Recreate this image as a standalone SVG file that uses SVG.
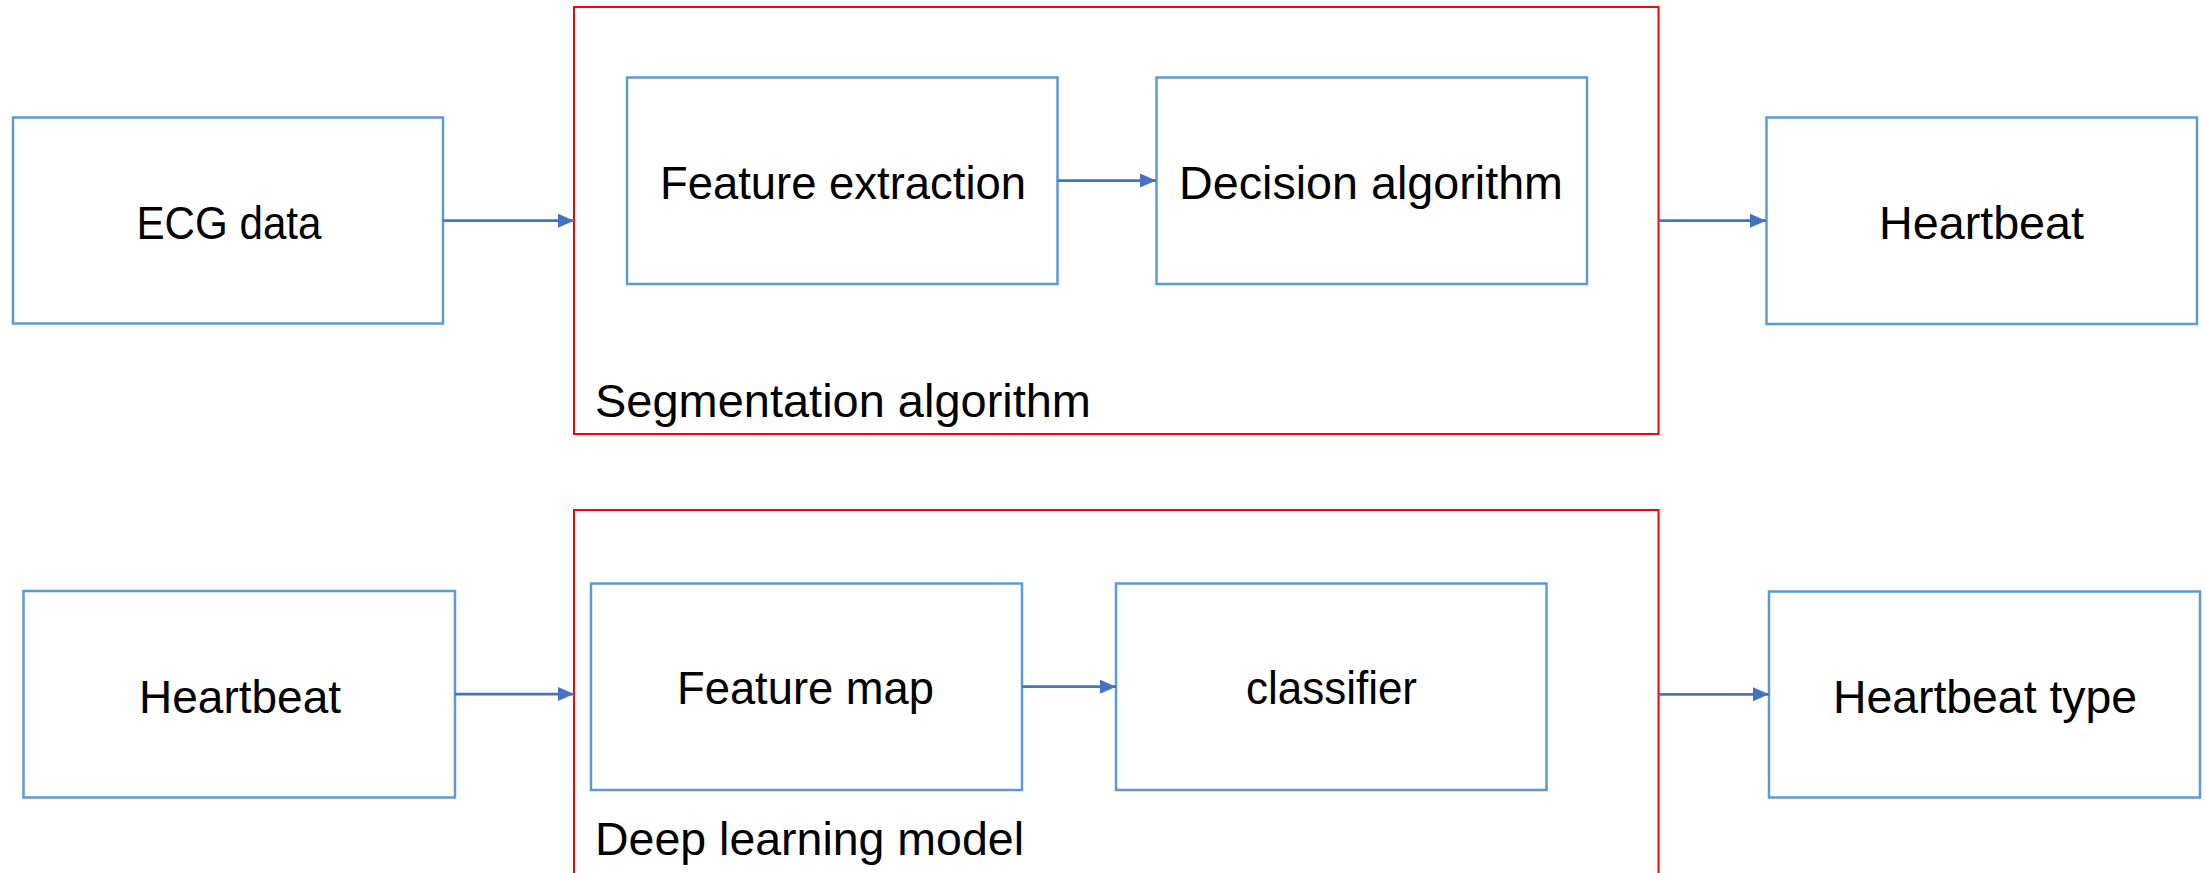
<svg xmlns="http://www.w3.org/2000/svg" width="2206" height="873" viewBox="0 0 2206 873">
<style>
.node{fill:#ffffff;stroke:#5B9BD5;stroke-width:2.5}
.group{fill:none;stroke:#FF0000;stroke-width:2}
.lbl{font-family:"Liberation Sans",Arial,sans-serif;font-size:46px;fill:#000000}
.mid{text-anchor:middle}
.conn{stroke:#4472C4;stroke-width:2.75;fill:none}
</style>
<defs>
<marker id="ah" markerUnits="userSpaceOnUse" markerWidth="16" markerHeight="14" refX="16" refY="7" orient="auto">
<path d="M0,0 L16,7 L0,14 Z" fill="#4472C4"/>
</marker>
</defs>
<rect width="2206" height="873" fill="#ffffff"/>
<g id="group-segmentation">
<rect class="group" x="574" y="7" width="1084.5" height="427"/>
<text class="lbl" x="595" y="417" textLength="496" lengthAdjust="spacingAndGlyphs">Segmentation algorithm</text>
</g>
<g id="group-deep-learning">
<rect class="group" x="574" y="510" width="1084.5" height="400"/>
<text class="lbl" x="595" y="855" textLength="429" lengthAdjust="spacingAndGlyphs">Deep learning model</text>
</g>
<g id="node-ecg">
<rect class="node" x="13" y="117.5" width="430" height="206"/>
<text class="lbl mid" x="229" y="239" textLength="185" lengthAdjust="spacingAndGlyphs">ECG data</text>
</g>
<g id="node-feature-extraction">
<rect class="node" x="627" y="77.5" width="430.5" height="206.5"/>
<text class="lbl mid" x="843" y="199" textLength="366" lengthAdjust="spacingAndGlyphs">Feature extraction</text>
</g>
<g id="node-decision">
<rect class="node" x="1156.5" y="77.5" width="430.5" height="206.5"/>
<text class="lbl mid" x="1371" y="199" textLength="384" lengthAdjust="spacingAndGlyphs">Decision algorithm</text>
</g>
<g id="node-heartbeat-top">
<rect class="node" x="1766.5" y="117.5" width="430.5" height="206.5"/>
<text class="lbl mid" x="1981.5" y="239" textLength="205" lengthAdjust="spacingAndGlyphs">Heartbeat</text>
</g>
<g id="node-heartbeat-bottom">
<rect class="node" x="23.5" y="591" width="431.5" height="206.5"/>
<text class="lbl mid" x="240" y="713" textLength="202" lengthAdjust="spacingAndGlyphs">Heartbeat</text>
</g>
<g id="node-feature-map">
<rect class="node" x="591" y="583.5" width="431" height="206.5"/>
<text class="lbl mid" x="805.5" y="704" textLength="257" lengthAdjust="spacingAndGlyphs">Feature map</text>
</g>
<g id="node-classifier">
<rect class="node" x="1116" y="583.5" width="430.5" height="206.5"/>
<text class="lbl mid" x="1331.5" y="704" textLength="171" lengthAdjust="spacingAndGlyphs">classifier</text>
</g>
<g id="node-heartbeat-type">
<rect class="node" x="1769" y="591.5" width="431" height="206"/>
<text class="lbl mid" x="1985" y="713" textLength="304" lengthAdjust="spacingAndGlyphs">Heartbeat type</text>
</g>
<g id="connectors">
<line class="conn" x1="443" y1="220.7" x2="574" y2="220.7" marker-end="url(#ah)"/>
<line class="conn" x1="1057.5" y1="180.5" x2="1156" y2="180.5" marker-end="url(#ah)"/>
<line class="conn" x1="1658.5" y1="220.7" x2="1766" y2="220.7" marker-end="url(#ah)"/>
<line class="conn" x1="455" y1="694" x2="574" y2="694" marker-end="url(#ah)"/>
<line class="conn" x1="1022" y1="686.7" x2="1116" y2="686.7" marker-end="url(#ah)"/>
<line class="conn" x1="1658.5" y1="694.3" x2="1769" y2="694.3" marker-end="url(#ah)"/>
</g>
</svg>
